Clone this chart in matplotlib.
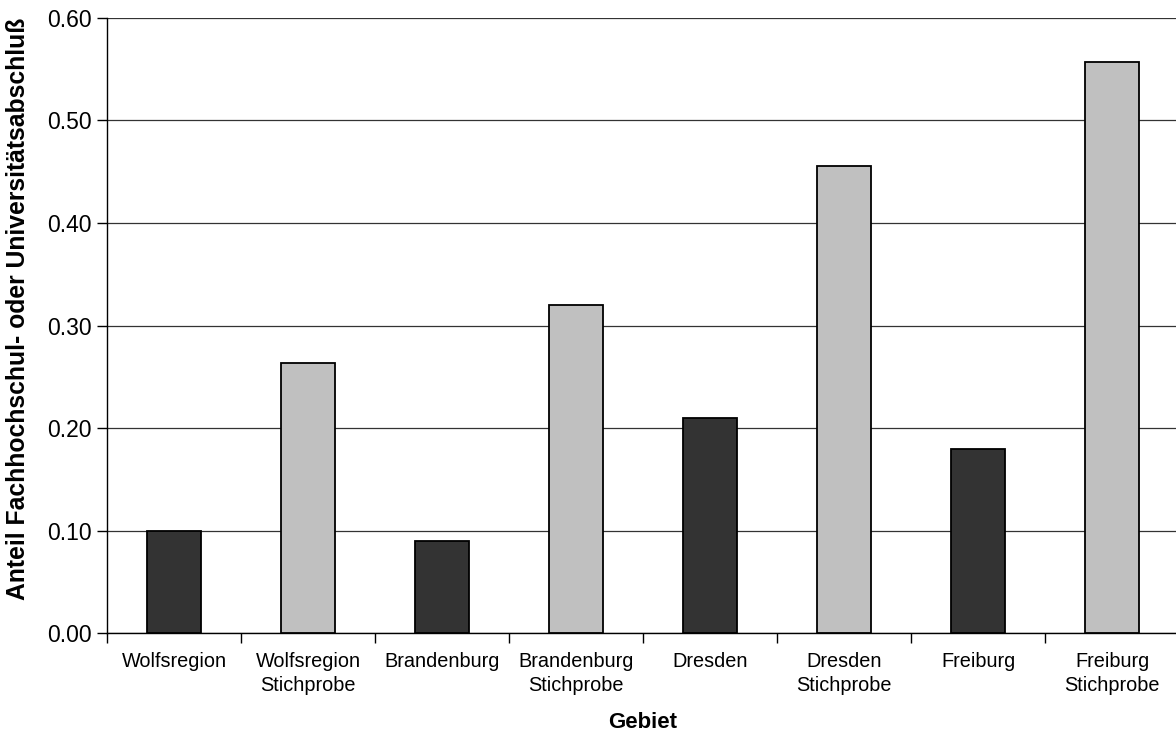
import numpy as np
import matplotlib.pyplot as plt

plt.rcParams["font.family"] = ["Liberation Sans", "DejaVu Sans"]

categories = [
    "Wolfsregion", "Wolfsregion\nStichprobe",
    "Brandenburg", "Brandenburg\nStichprobe",
    "Dresden", "Dresden\nStichprobe",
    "Freiburg", "Freiburg\nStichprobe",
]
shares = [0.100, 0.263, 0.090, 0.320, 0.210, 0.456, 0.180, 0.557]
bar_colors = ["#333333", "#C0C0C0"] * 4
y_ticks = [0.0, 0.1, 0.2, 0.3, 0.4, 0.5, 0.6]

fig = plt.figure(figsize=(11.76, 7.31), dpi=100)
ax = fig.add_axes([0.091, 0.134, 0.9116, 0.8414])

x = np.arange(len(categories))
ax.bar(x, shares, width=0.4, color=bar_colors, edgecolor="black",
       linewidth=1.3, zorder=3)

ax.set_xlim(-0.5, len(categories) - 0.5)
ax.set_ylim(0, 0.6)
ax.set_yticks(y_ticks)
ax.set_yticklabels([f"{v:.2f}" for v in y_ticks], fontsize=16.5)
ax.yaxis.grid(True, color="#333333", linewidth=0.9, zorder=0)

# labels centred under bars, tick marks on the category boundaries
ax.set_xticks(x)
ax.set_xticklabels(categories, fontsize=14.3, linespacing=1.3)
ax.tick_params(axis="x", which="major", length=0, pad=14)
ax.set_xticks(np.arange(-0.5, len(categories)), minor=True)
ax.tick_params(axis="x", which="minor", length=7, width=1, direction="out")
ax.tick_params(axis="y", length=7, width=1, direction="out", pad=4)

for side in ("top", "right"):
    ax.spines[side].set_visible(False)
ax.spines["left"].set_linewidth(1)
ax.spines["bottom"].set_linewidth(1)

ax.set_xlabel("Gebiet", fontsize=16, fontweight="bold")
ax.xaxis.set_label_coords(0.5, -0.128)
ax.set_ylabel("Anteil Fachhochschul- oder Universitätsabschluß",
              fontsize=17.8, fontweight="bold")
ax.yaxis.set_label_coords(-0.072, 0.527)

fig.savefig("out.png", dpi=100)
